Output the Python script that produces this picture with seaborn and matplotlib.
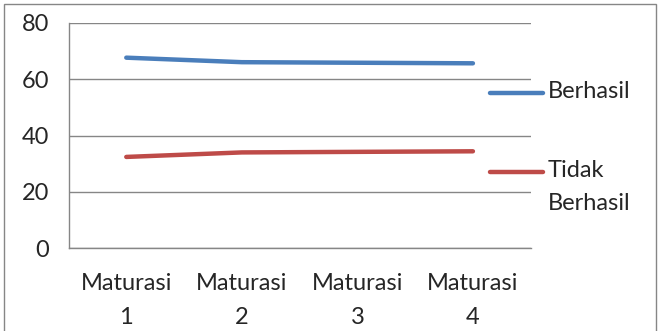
import matplotlib
matplotlib.use("Agg")
import matplotlib.pyplot as plt
import seaborn as sns
import pandas as pd
from matplotlib.patches import Rectangle
from matplotlib.lines import Line2D

categories = ["Maturasi\n1", "Maturasi\n2", "Maturasi\n3", "Maturasi\n4"]
berhasil = [67.6, 66.0, 65.8, 65.6]
tidak_berhasil = [32.4, 34.0, 34.2, 34.4]
series_names = ["Berhasil", "Tidak\nBerhasil"]
yticks = [0, 20, 40, 60, 80]

df = pd.DataFrame({
    "kategori": categories * 2,
    "x": list(range(len(categories))) * 2,
    "nilai": berhasil + tidak_berhasil,
    "seri": [series_names[0]] * 4 + [series_names[1]] * 4,
})

sns.set_theme(style="white")
plt.rcParams["font.family"] = ["Lato", "DejaVu Sans"]
FS = 17

fig = plt.figure(figsize=(6.6, 3.31), dpi=100)
ax = fig.add_axes([68.5 / 660, 1 - 248.3 / 331, (530.7 - 68.5) / 660, (248.3 - 22.7) / 331])

colors = ["#4A7EBB", "#BE4B48"]
palette = dict(zip(series_names, colors))
sns.lineplot(data=df, x="x", y="nilai", hue="seri", palette=palette, ax=ax,
             linewidth=3.2, solid_capstyle="round", legend=False)

ax.set_xlim(-0.5, len(categories) - 0.5)
ax.set_ylim(0, 80)
ax.set_yticks(yticks)
ax.set_yticklabels([str(v) for v in yticks])
ax.grid(axis="y", color="#868686", linewidth=1.0)
ax.set_axisbelow(True)
ax.set_xlabel("")
ax.set_ylabel("")

ax.set_xticks([i - 0.5 for i in range(len(categories) + 1)])
ax.set_xticklabels([])
ax.set_xticks(range(len(categories)), minor=True)
ax.set_xticklabels(categories, minor=True, fontsize=FS, linespacing=1.75)
ax.tick_params(axis="x", which="minor", length=0, pad=18)
ax.tick_params(axis="x", which="major", length=8, color="#868686", width=1, direction="out")
ax.tick_params(axis="y", length=9, color="#868686", width=1, labelsize=FS, pad=5, direction="out")

for s in ["top", "right"]:
    ax.spines[s].set_visible(False)
for s in ["left", "bottom"]:
    ax.spines[s].set_color("#868686")
    ax.spines[s].set_linewidth(1)

# legend (drawn at the right, Excel style)
leg_y = [92.7, 171.7]
for name, col, y in zip(series_names, colors, leg_y):
    fig.add_artist(Line2D([490 / 660, 543 / 660], [1 - y / 331] * 2, transform=fig.transFigure,
                          color=col, linewidth=3.2, solid_capstyle="round"))
    fig.text(548 / 660, 1 - (y - 12) / 331, name, fontsize=FS, va="top", ha="left",
             linespacing=1.75)

fig.patches.append(Rectangle((4 / 660, -0.05), 652 / 660, 1 - 4 / 331 + 0.05,
                             transform=fig.transFigure, fill=False,
                             edgecolor="#868686", linewidth=1))

fig.savefig("out.png", dpi=100)
